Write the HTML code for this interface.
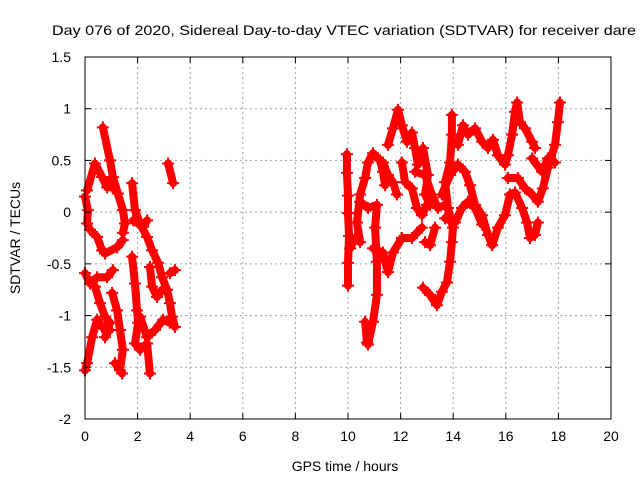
<!DOCTYPE html>
<html><head><meta charset="utf-8"><style>
body{margin:0;background:#fff}
svg{display:block;font-family:"Liberation Sans",sans-serif}
</style></head><body>
<svg id="chart" width="640" height="480" viewBox="0 0 640 480">
<text x="52" y="35" font-size="14" textLength="584" lengthAdjust="spacingAndGlyphs">Day 076 of 2020, Sidereal Day-to-day VTEC variation (SDTVAR) for receiver dare</text>
<text x="345" y="471" font-size="14" text-anchor="middle">GPS time / hours</text>
<text transform="translate(20,238) rotate(-90)" font-size="14" text-anchor="middle">SDTVAR / TECUs</text>
<g id="grid"></g>
<g id="marks"></g>
<g id="axes"></g>
</svg>
<script>
const xTicks=[0,2,4,6,8,10,12,14,16,18,20];
const yTicks=[-2,-1.5,-1,-0.5,0,0.5,1,1.5];
const yTickLabels=["-2","-1.5","-1","-0.5","0","0.5","1","1.5"];
const trackA=[[0.68,0.82],[0.95,0.5],[1.06,0.34],[1.25,0.18],[1.44,0.02],[1.52,-0.11],[1.44,-0.2]];
const trackB=[[0.08,0.21],[0.38,0.47],[0.65,0.34],[0.84,0.24],[1.03,0.34],[1.14,0.21]];
const trackC=[[0,0.15],[0.11,0.02],[0.08,-0.11],[0.19,-0.17],[0.46,-0.24],[0.65,-0.37],[0.76,-0.4],[1.22,-0.34],[1.44,-0.27]];
const trackD=[[0,-0.59],[0.19,-0.69],[0.46,-0.63],[0.84,-0.63],[1.06,-0.56]];
const trackE=[[0.38,-0.72],[0.57,-0.88],[0.76,-1.01],[0.95,-1.07],[0.76,-1.21]];
const trackF=[[1.03,-0.78],[1.22,-0.95],[1.33,-1.14],[1.44,-1.33],[1.33,-1.53]];
const trackG=[[0,-1.53],[0.08,-1.46],[0.27,-1.21],[0.46,-1.04],[0.65,-1.11],[0.95,-1.14]];
const trackH=[[1.14,-1.46],[1.41,-1.56]];
const trackI=[[1.79,0.28],[1.9,0.02],[2.09,-0.11],[2.36,-0.24],[2.55,-0.37],[2.78,-0.49],[2.93,-0.63],[3.12,-0.75],[3.23,-0.88],[3.31,-1.01],[3.42,-1.11]];
const trackJ=[[1.83,-0.08],[2.21,-0.14],[2.36,-0.08]];
const trackK=[[1.79,-0.43],[1.9,-0.69],[1.98,-0.95],[2.02,-1.07],[1.9,-1.27],[2.09,-1.33],[2.36,-1.27],[2.47,-1.56]];
const trackL=[[2.47,-0.53],[2.55,-0.72],[2.74,-0.82],[2.93,-0.75]];
const trackM=[[3.23,-0.59],[3.42,-0.56]];
const trackN=[[2.09,-1.01],[2.36,-1.21],[2.66,-1.14],[2.97,-1.04],[3.23,-1.07]];
const trackO=[[3.16,0.47],[3.35,0.28]];
const trackR1=[[9.96,0.56],[9.96,0.38],[10,0.16],[10,-0.01],[10.04,-0.23],[10,-0.49],[10,-0.71]];
const trackR2=[[10.08,-0.35],[10.27,-0.25],[10.46,-0.29],[10.34,-0.1],[10.46,0.17],[10.65,0.33],[10.76,0.48],[10.95,0.57],[11.22,0.5],[11.33,0.39],[11.41,0.26]];
const trackR3=[[10.46,0.1],[10.76,0.04],[11.1,0.07],[11.03,-0.15],[11.1,-0.48],[11.1,-0.8],[10.95,-1.06],[10.76,-1.28]];
const trackR4=[[10.65,-1.06],[10.72,-1.26]];
const trackR5=[[10.95,-0.35],[11.33,-0.39],[11.52,-0.58],[11.71,-0.39],[12.05,-0.25],[12.43,-0.25],[12.81,-0.15]];
const trackR6=[[11.52,0.65],[11.71,0.81],[11.9,0.99],[12.05,0.84],[12.24,0.68],[12.43,0.77],[12.55,0.62],[12.66,0.46],[12.85,0.62],[13.04,0.36],[12.93,0.17],[13.12,0.07]];
const trackR7=[[11.33,0.48],[11.52,0.36],[11.71,0.29],[11.86,0.17]];
const trackR8=[[12.05,0.48],[12.17,0.29],[12.43,0.23],[12.62,0.04],[12.81,-0.03],[13,0.07],[13.23,0.14],[13.42,0.04],[13.69,0.07]];
const trackR9=[[12.93,-0.29],[13.12,-0.32],[13.31,-0.15]];
const trackR10=[[12.85,-0.73],[13.12,-0.8],[13.38,-0.9],[13.57,-0.77],[13.76,-0.68],[13.88,-0.48],[13.95,-0.29],[13.99,-0.15],[13.8,0.04],[13.69,0.29],[13.88,0.48],[13.95,0.75],[13.95,0.94]];
const trackR11=[[13.57,0.17],[13.88,0.36],[14.18,0.46],[14.45,0.39],[14.64,0.26],[14.83,0.07],[15.1,-0.03],[15.32,-0.22],[15.48,-0.32],[15.7,-0.15],[15.97,-0.03],[16.16,0.17],[16.35,0.19],[16.62,0.04],[16.81,-0.1],[16.92,-0.25],[17.11,-0.22],[17.22,-0.1]];
const trackR12=[[14.18,0.65],[14.37,0.84],[14.56,0.75],[14.83,0.81],[15.1,0.68],[15.32,0.62],[15.51,0.7],[15.7,0.55],[15.97,0.46],[16.08,0.55],[16.24,0.75],[16.35,0.97],[16.43,1.06],[16.54,0.87],[16.73,0.81],[17,0.68],[17.11,0.62]];
const trackR13=[[13.69,-0.06],[14.07,-0.1],[14.33,0.04],[14.56,0.1],[14.83,0.04],[15.1,-0.12]];
const trackR14=[[16.08,0.33],[16.46,0.33],[16.73,0.23],[17,0.17],[17.22,0.1],[17.41,0.23],[17.6,0.43],[17.87,0.65],[17.98,0.87],[18.06,1.06]];
const trackR15=[[17,0.52],[17.38,0.39],[17.6,0.52],[17.87,0.48]];
const trackR17=[[12.55,0.39],[12.93,0.36],[13.19,0.17]];
const tracks=[trackA,trackB,trackC,trackD,trackE,trackF,trackG,trackH,trackI,trackJ,trackK,trackL,trackM,trackN,trackO,trackR1,trackR2,trackR3,trackR4,trackR5,trackR6,trackR7,trackR8,trackR9,trackR10,trackR11,trackR12,trackR13,trackR14,trackR15,trackR17];

const L=85,R=611,T=57,B=419;
const X=t=>L+(t-0)/(20-0)*(R-L);
const Y=v=>B-(v+2)/(1.5+2)*(B-T);
const NS='http://www.w3.org/2000/svg';
function mk(tag,attrs,parent){const e=document.createElementNS(NS,tag);for(const k in attrs)e.setAttribute(k,attrs[k]);parent.appendChild(e);return e;}
const grid=document.getElementById('grid'),axes=document.getElementById('axes'),marks=document.getElementById('marks');
xTicks.forEach((t,i)=>{
  const x=X(t);
  if(i>0&&i<xTicks.length-1){const g=mk('line',{x1:x,y1:T,x2:x,y2:B,stroke:'#a0a0a0','stroke-dasharray':'2,3','stroke-width':1},grid);
  
  }
  mk('line',{x1:x,y1:B,x2:x,y2:B-6,stroke:'#000'},axes);
  mk('line',{x1:x,y1:T,x2:x,y2:T+6,stroke:'#000'},axes);
  const tx=mk('text',{x:x,y:B+22,'font-size':14,'text-anchor':'middle'},axes);tx.textContent=String(t);
  
  
});
yTicks.forEach((v,i)=>{
  const y=Y(v);
  if(i>0&&i<yTicks.length-1){const g=mk('line',{x1:L,y1:y,x2:R,y2:y,stroke:'#a0a0a0','stroke-dasharray':'2,3','stroke-width':1},grid);
  
  }
  mk('line',{x1:L,y1:y,x2:L+6,y2:y,stroke:'#000'},axes);
  mk('line',{x1:R,y1:y,x2:R-6,y2:y,stroke:'#000'},axes);
  const tx=mk('text',{x:L-14,y:y+5,'font-size':14,'text-anchor':'end'},axes);tx.textContent=yTickLabels[i];
  
  
});
const frame=mk('rect',{x:L,y:T,width:R-L,height:B-T,fill:'none',stroke:'#000','stroke-width':1},axes);


tracks.forEach(tr=>{
  const pl=mk('polyline',{points:tr.map(p=>X(p[0])+','+Y(p[1])).join(' '),fill:'none',stroke:'#f00','stroke-width':8,'stroke-linejoin':'round','stroke-linecap':'round'},marks);
  
  
  tr.forEach(p=>{
    const x=X(p[0]),y=Y(p[1]);
    const m=mk('path',{d:`M${x-6},${y}H${x+6}M${x},${y-6}V${y+6}`,stroke:'#f00','stroke-width':2},marks);
    
    
  });
});
</script>
</body></html>
